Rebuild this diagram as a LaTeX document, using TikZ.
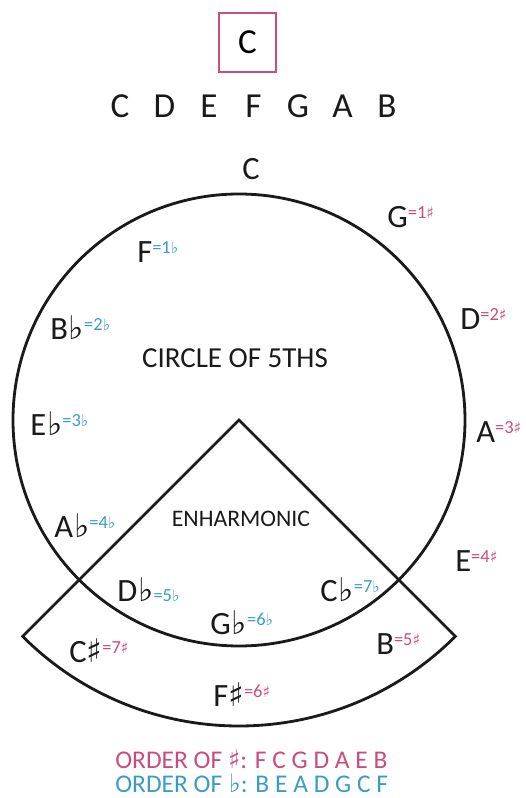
\documentclass[tikz,border=0pt]{standalone}
\usepackage{fontspec}
\setmainfont{Carlito}
\newfontfamily\symfont{DejaVu Sans}
\usetikzlibrary{positioning}
\definecolor{Ink}{HTML}{1A1A1A}
\definecolor{Rose}{HTML}{C94C7E}
\definecolor{Sky}{HTML}{3A9CC6}
\newcommand{\fl}{{\symfont\kern0.5pt ♭}}
\newcommand{\sh}{{\symfont ♯}}
\newcommand{\upsharp}[1]{\textcolor{Rose}{\raisebox{5.6pt}{\fontsize{10.5}{11}\selectfont =#1{\symfont\fontsize{9}{11}\selectfont ♯}}}}
\newcommand{\upflat}[1]{\textcolor{Sky}{\raisebox{5.6pt}{\fontsize{10.5}{11}\selectfont =#1{\symfont\fontsize{9}{11}\selectfont ♭}}}}
\newcommand{\lowflat}[1]{\textcolor{Sky}{\fontsize{10.5}{11}\selectfont =#1{\symfont\fontsize{9}{11}\selectfont ♭}}}
\tikzset{
  keyname/.style={anchor=base west, inner sep=0pt, text=Ink, font=\fontsize{18.5}{20}\selectfont},
  scalename/.style={anchor=base, inner sep=0pt, text=Ink, font=\fontsize{20}{22}\selectfont},
  caption/.style={anchor=base, inner sep=0pt, text=Ink},
  outline/.style={draw=Ink, line width=1.6pt},
  tonic/.style={draw=Rose, line width=1.1pt, minimum width=1.14cm, minimum height=1.18cm,
    inner sep=0pt, font=\fontsize{20}{22}\selectfont}
}

\begin{document}
\begin{tikzpicture}[x=0.02cm,y=0.02cm]
    \useasboundingbox (0,0) rectangle (526,798);
    % tonic and its scale
    \node[tonic] (tonic) at (247.5,755.5) {C};
    \foreach \n [count=\i from 0] in {C,D,E,F,G,A,B}
      \node[scalename] (scale\i) at (120+44.5*\i,680) {\n};
    % the two shapes
    \coordinate (centre) at (239,378);
    \draw[outline] (centre) circle (226);
    \draw[outline] (centre) -- ++(225:306) arc[start angle=225, end angle=315, radius=306] -- cycle;
    \node[caption, font=\fontsize{16.5}{18}\selectfont] (circlename) at (235,430) {CIRCLE OF 5THS};
    \node[caption, font=\fontsize{13.5}{15}\selectfont] (enharm) at (241,271) {ENHARMONIC};
    % keys
    \node[caption, font=\fontsize{18.5}{20}\selectfont] (keyC) at (251,618) {C};
    \node[keyname] (keyG) at (387,570) {G\upsharp{1}};
    \node[keyname] (keyD) at (460,468) {D\upsharp{2}};
    \node[keyname] (keyA) at (476,355) {A\upsharp{3}};
    \node[keyname] (keyE) at (455,226) {E\upsharp{4}};
    \node[keyname] (keyB) at (376,143) {B\upsharp{5}};
    \node[keyname] (keyFs) at (213,91) {F\sh\upsharp{6}};
    \node[keyname] (keyCs) at (69,135) {C\sh\upsharp{7}};
    \node[keyname] (keyF) at (137,535) {F\upflat{1}};
    \node[keyname] (keyBb) at (50,458) {B\fl\upflat{2}};
    \node[keyname] (keyEb) at (30,362) {E\fl\upflat{3}};
    \node[keyname] (keyAb) at (54,260) {A\fl\upflat{4}};
    \node[keyname] (keyDb) at (117,196) {D\fl\lowflat{5}};
    \node[keyname] (keyGb) at (210,163) {G\fl\upflat{6}};
    \node[keyname] (keyCb) at (320,196) {C\fl\upflat{7}};
    % orders
    \node[anchor=base west, inner sep=0pt, text=Rose, font=\fontsize{14.5}{16}\selectfont] (ordersharp) at (115,30) {ORDER OF \sh: F C G D A E B};
    \node[anchor=base west, inner sep=0pt, text=Sky, font=\fontsize{14.5}{16}\selectfont] (orderflat) at (115,6) {ORDER OF \fl: B E A D G C F};
  \end{tikzpicture}
\end{document}
